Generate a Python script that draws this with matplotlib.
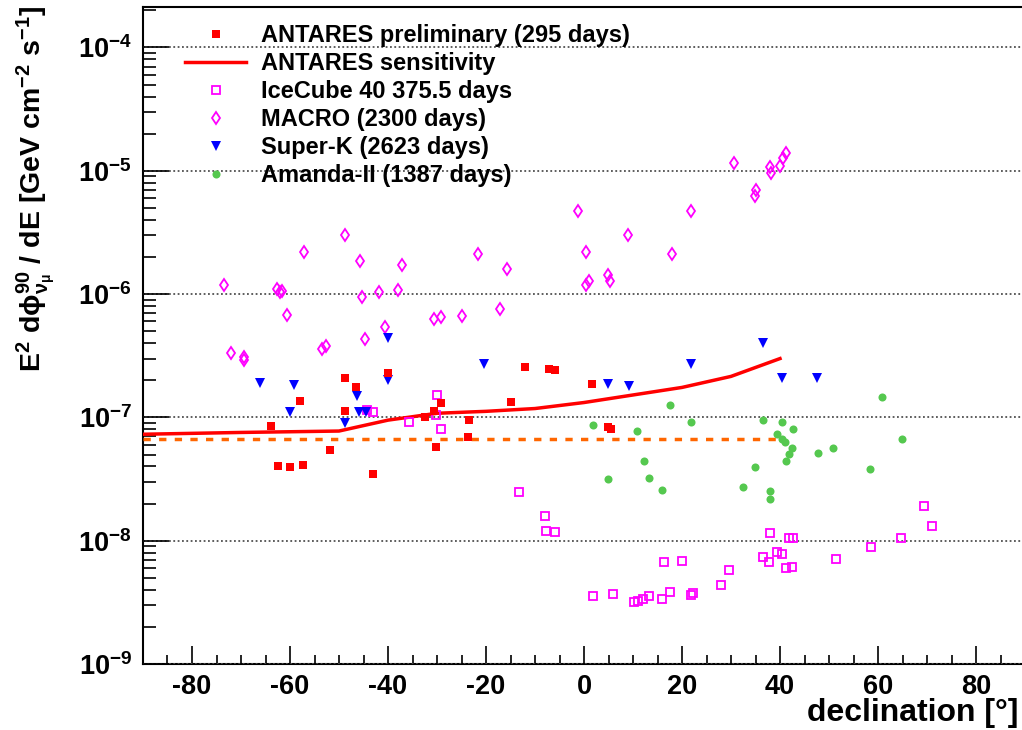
import math
import matplotlib
matplotlib.use("Agg")
import matplotlib.pyplot as plt
from matplotlib.ticker import LogLocator, MultipleLocator, FuncFormatter, NullFormatter
from matplotlib.lines import Line2D

plt.rcParams['font.family'] = ['Liberation Sans', 'DejaVu Sans']
plt.rcParams['font.weight'] = 'bold'
plt.rcParams['mathtext.fontset'] = 'custom'
plt.rcParams['mathtext.rm'] = 'Liberation Sans:bold'
plt.rcParams['mathtext.bf'] = 'Liberation Sans:bold'
plt.rcParams['mathtext.it'] = 'Liberation Sans:bold'
plt.rcParams['mathtext.sf'] = 'Liberation Sans:bold'
plt.rcParams['mathtext.default'] = 'bf'
plt.rcParams['axes.unicode_minus'] = False

# ---- data: declination [deg] and E^2 dPhi/dE upper limits [GeV cm^-2 s^-1] ----
antares_dec = [-63.8, -62.4, -59.9, -57.3, -57.9, -51.9, -48.8, -48.8, -46.5, -43.1,
               -39.9, -32.4, -30.7, -29.1, -30.3, -23.5, -23.6, -15.0, -12.1, -7.1,
               -5.9, 1.6, 4.8, 5.6]
antares_flux = [8.55e-8, 4.05e-8, 3.97e-8, 4.08e-8, 1.35e-7, 5.43e-8, 2.1e-7, 1.13e-7, 1.78e-7, 3.47e-8,
                2.28e-7, 1.01e-7, 1.13e-7, 1.30e-7, 5.7e-8, 9.6e-8, 6.97e-8, 1.33e-7, 2.54e-7, 2.45e-7,
                2.42e-7, 1.85e-7, 8.3e-8, 8.1e-8]

sens_dec = [-90, -70, -50, -40, -30, -20, -10, 0, 10, 20, 30, 40]
sens_flux = [7.3e-8, 7.55e-8, 7.75e-8, 9.5e-8, 1.08e-7, 1.12e-7, 1.18e-7, 1.32e-7,
             1.52e-7, 1.75e-7, 2.15e-7, 3.0e-7]

ref_dec = [-90, 40]
ref_flux = [6.7e-8, 6.7e-8]

icecube_dec = [-44.2, -43.0, -35.8, -30.0, -30.3, -29.1, -13.3, -8.0, -7.8, -6.0,
               1.8, 6.0, 10.2, 11.1, 12.0, 13.3, 15.9, 17.6, 16.3, 20.1,
               21.8, 22.3, 28.0, 29.5, 36.5, 37.9, 37.8, 39.4, 40.5, 41.2,
               42.4, 41.8, 42.7, 51.4, 58.5, 64.7, 69.4, 71.0]
icecube_flux = [1.15e-7, 1.10e-7, 9.2e-8, 1.52e-7, 1.05e-7, 8.0e-8, 2.47e-8, 1.59e-8, 1.20e-8, 1.18e-8,
                3.56e-9, 3.69e-9, 3.19e-9, 3.23e-9, 3.36e-9, 3.57e-9, 3.36e-9, 3.85e-9, 6.67e-9, 6.8e-9,
                3.66e-9, 3.74e-9, 4.39e-9, 5.78e-9, 7.36e-9, 1.16e-8, 6.67e-9, 8.04e-9, 7.74e-9, 5.96e-9,
                6.07e-9, 1.06e-8, 1.06e-8, 7.1e-9, 8.9e-9, 1.06e-8, 1.90e-8, 1.31e-8]

macro_dec = [-73.5, -72.0, -69.4, -69.4, -62.7, -62.0, -61.6, -60.6, -57.2, -53.5,
             -52.6, -48.8, -45.7, -45.3, -44.6, -41.8, -40.6, -38.0, -37.1, -30.6,
             -29.1, -24.9, -21.6, -17.1, -15.7, -1.2, 0.4, 0.4, 1.0, 4.8,
             5.4, 8.9, 18.0, 21.8, 30.7, 34.9, 35.1, 38.0, 38.2, 40.0,
             40.6, 41.2]
macro_flux = [1.18e-6, 3.3e-7, 2.9e-7, 3.1e-7, 1.10e-6, 1.04e-6, 1.06e-6, 6.8e-7, 2.2e-6, 3.6e-7,
              3.8e-7, 3.0e-6, 1.87e-6, 9.4e-7, 4.3e-7, 1.04e-6, 5.4e-7, 1.08e-6, 1.73e-6, 6.3e-7,
              6.5e-7, 6.7e-7, 2.1e-6, 7.5e-7, 1.6e-6, 4.7e-6, 2.2e-6, 1.18e-6, 1.27e-6, 1.43e-6,
              1.27e-6, 3.0e-6, 2.1e-6, 4.7e-6, 1.15e-5, 6.3e-6, 7.0e-6, 1.08e-5, 9.6e-6, 1.10e-5,
              1.26e-5, 1.40e-5]

superk_dec = [-66.1, -59.2, -59.9, -48.8, -46.4, -45.9, -44.4, -39.9, -39.9, -20.5,
              4.8, 9.1, 21.8, 36.5, 40.5, 47.6]
superk_flux = [1.89e-7, 1.83e-7, 1.10e-7, 9.0e-8, 1.49e-7, 1.11e-7, 1.11e-7, 4.4e-7, 2.0e-7, 2.7e-7,
               1.86e-7, 1.80e-7, 2.7e-7, 4.0e-7, 2.1e-7, 2.1e-7]

amanda_dec = [1.8, 4.8, 10.8, 12.2, 13.3, 16.0, 17.6, 21.8, 32.5, 34.9,
              36.5, 40.4, 42.7, 39.4, 40.5, 41.1, 42.4, 41.9, 41.2, 38.0,
              37.9, 47.8, 50.8, 58.4, 60.9, 64.8]
amanda_flux = [8.7e-8, 3.16e-8, 7.74e-8, 4.42e-8, 3.22e-8, 2.56e-8, 1.26e-7, 9.2e-8, 2.72e-8, 3.95e-8,
               9.6e-8, 9.2e-8, 8.0e-8, 7.28e-8, 6.64e-8, 6.34e-8, 5.63e-8, 5.07e-8, 4.45e-8, 2.51e-8,
               2.17e-8, 5.1e-8, 5.67e-8, 3.81e-8, 1.47e-7, 6.67e-8]

labels = ["ANTARES preliminary (295 days)", "ANTARES sensitivity", "IceCube 40 375.5 days",
          "MACRO (2300 days)", "Super-K (2623 days)", "Amanda-II (1387 days)"]

RED = "#ff0000"
MAG = "#ff00ff"
BLUE = "#0000ff"
GREEN = "#55c84f"
ORANGE = "#ff6600"

W, H = 1022, 730
fig = plt.figure(figsize=(W / 100, H / 100), dpi=100)
ax = fig.add_axes([143 / W, 1 - 664 / H, (1025 - 143) / W, (664 - 7) / H])
ax.set_yscale('log')
ax.set_xlim(-90, 90)
ax.set_ylim(1e-9, 2.13e-4)

# reference level and sensitivity curve
ax.plot(ref_dec, ref_flux, color=ORANGE, lw=2.5, ls=(0, (2.1, 2.4)), zorder=3)
ax.plot(sens_dec, sens_flux, color=RED, lw=2.5, zorder=3)

# limits from the different experiments
ax.plot(icecube_dec, icecube_flux, ls='none', marker='s', ms=6.3, mfc='none', mec=MAG, mew=1.3, zorder=4)
ax.plot(macro_dec, macro_flux, ls='none', marker='d', ms=6.5, mfc='none', mec=MAG, mew=1.3, zorder=4)
ax.plot(superk_dec, superk_flux, ls='none', marker='v', ms=6.8, mfc=BLUE, mec=BLUE, mew=0, zorder=4)
ax.plot(amanda_dec, amanda_flux, ls='none', marker='o', ms=5.8, mfc=GREEN, mec=GREEN, mew=0, zorder=4)
ax.plot(antares_dec, antares_flux, ls='none', marker='s', ms=5.4, mfc=RED, mec=RED, mew=0, zorder=5)

# axes styling
for s in ['left', 'bottom', 'top', 'right']:
    ax.spines[s].set_linewidth(1.5)
ax.spines['right'].set_visible(False)

ax.xaxis.set_major_locator(MultipleLocator(20))
ax.xaxis.set_minor_locator(MultipleLocator(5))
ax.yaxis.set_major_locator(LogLocator(base=10, numticks=20))
ax.yaxis.set_minor_locator(LogLocator(base=10, subs=[2, 3, 4, 5, 6, 7, 8, 9], numticks=20))
ax.yaxis.set_minor_formatter(NullFormatter())
ax.yaxis.set_major_formatter(FuncFormatter(lambda v, p: r'$10^{%d}$' % round(math.log10(v))))
ax.xaxis.set_major_formatter(FuncFormatter(lambda v, p: '%d' % round(v)))

ax.tick_params(axis='x', which='major', direction='in', length=13, width=1.2, labelsize=19.5, pad=7,
               top=False)
ax.tick_params(axis='x', which='minor', direction='in', length=6.5, width=1.2, top=False)
ax.tick_params(axis='y', which='major', direction='in', length=19, width=1.2, labelsize=19.5, pad=8,
               right=False)
ax.tick_params(axis='y', which='minor', direction='in', length=9.5, width=1.2, right=False)

ax.yaxis.grid(True, which='major', color='#505050', lw=1.3, ls=(0, (1, 1.4)))
ax.set_axisbelow(False)

fig.text(1018 / W, 1 - 721 / H, u"declination [\u00b0]", ha='right', va='baseline',
         fontsize=23, fontweight='bold')
fig.text(36 / W, 1 - 6 / H,
         r"E$^{2}$ d$\phi^{90}_{\nu_{\mu}}$ / dE [GeV cm$^{-2}$ s$^{-1}$]",
         rotation=90, ha='center', va='top', fontsize=20.5, fontweight='bold')

handles = [
    Line2D([], [], ls='none', marker='s', ms=5.4, mfc=RED, mec=RED, mew=0),
    Line2D([], [], color=RED, lw=2.5),
    Line2D([], [], ls='none', marker='s', ms=6.3, mfc='none', mec=MAG, mew=1.3),
    Line2D([], [], ls='none', marker='d', ms=6.5, mfc='none', mec=MAG, mew=1.3),
    Line2D([], [], ls='none', marker='v', ms=6.8, mfc=BLUE, mec=BLUE, mew=0),
    Line2D([], [], ls='none', marker='o', ms=5.8, mfc=GREEN, mec=GREEN, mew=0),
]
leg = ax.legend(handles, labels, loc='upper left', bbox_to_anchor=(185 / W, 1 - 24 / H),
                bbox_transform=fig.transFigure, frameon=False,
                prop={'weight': 'bold', 'size': 17}, handlelength=2.6, handletextpad=0.6,
                labelspacing=0.21, borderpad=0, borderaxespad=0)

fig.savefig("out.png", dpi=100)
